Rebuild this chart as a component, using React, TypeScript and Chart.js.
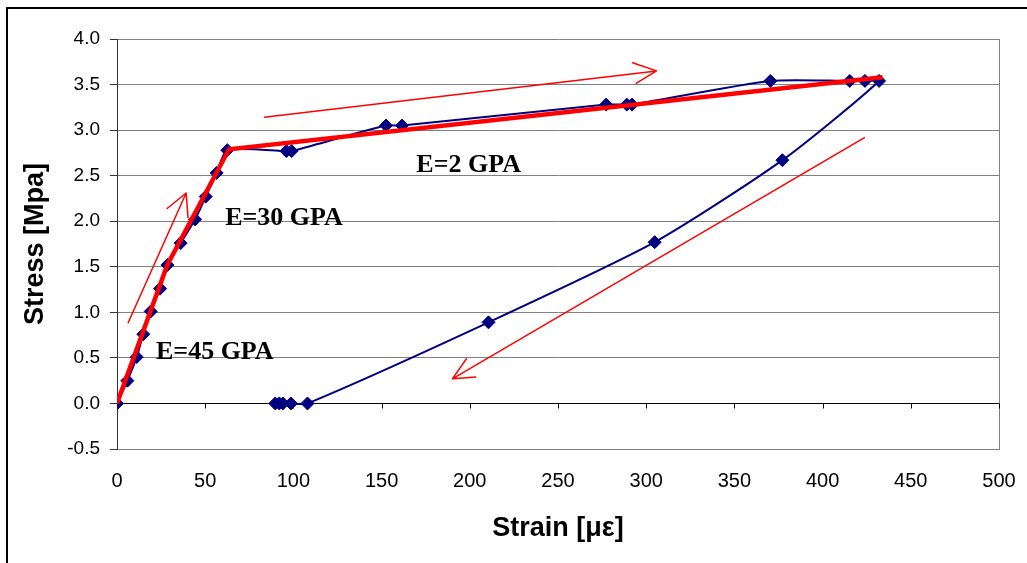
import React, { useEffect, useRef } from "react";
import { Chart, registerables } from "chart.js";

Chart.register(...registerables);

// Measured stress-strain curve (loading then unloading)
const curveStrain = [
  0, 5.9, 11.2, 14.9, 19.1, 24.4, 28.6, 36.1, 44.3, 50.3, 56.5, 62.5,
  96, 99, 152.5, 161.6, 277.3, 289, 292, 370.4, 415.4, 424, 432,
  377.2, 304.8, 210.6, 108, 98.6, 94, 92, 89.7,
];
const curveStress = [
  0, 0.25, 0.51, 0.76, 1.01, 1.26, 1.52, 1.76, 2.02, 2.27, 2.53, 2.78,
  2.77, 2.77, 3.05, 3.05, 3.28, 3.28, 3.28, 3.54, 3.54, 3.54, 3.54,
  2.67, 1.77, 0.89, 0, 0, 0, 0, 0,
];

// Piecewise-linear modulus fit (thick red)
const fitStrain = [0, 28.5, 63.5, 434];
const fitStress = [0, 1.52, 2.79, 3.58];

// Thin red arrows: shaft start, tip, head side 1, tip, head side 2
const arrowUpStrain = [6.2, 39.2, 28.4, 39.2, 40.3];
const arrowUpStress = [0.88, 2.31, 2.14, 2.31, 2.03];
const arrowTopStrain = [83.4, 305.9, 292.3, 305.9, 294];
const arrowTopStress = [3.14, 3.65, 3.74, 3.65, 3.51];
const arrowDownStrain = [424, 190.1, 198.1, 190.1, 203.7];
const arrowDownStress = [2.92, 0.27, 0.49, 0.27, 0.29];

// Annotations
const labelTexts = ["E=45 GPA", "E=30 GPA", "E=2 GPA"];
const labelStrain = [22.1, 61.3, 169.7];
const labelStress = [0.487, 1.96, 2.54];

// Axis ticks
const xTicks = [0, 50, 100, 150, 200, 250, 300, 350, 400, 450, 500];
const yTicks = [-0.5, 0, 0.5, 1.0, 1.5, 2.0, 2.5, 3.0, 3.5, 4.0];

const toPts = (xs: number[], ys: number[]) => xs.map((x, i) => ({ x, y: ys[i] }));

const SANS = '"Liberation Sans", Arial, sans-serif';

const framePlugin = {
  id: "frame",
  beforeDraw(chart: any) {
    const ctx = chart.ctx;
    ctx.save();
    ctx.strokeStyle = "#000";
    ctx.lineWidth = 2;
    ctx.strokeRect(7, 8, 1200, 700);
    ctx.restore();
  },
};

const axisTickPlugin = {
  id: "zeroAxisTicks",
  beforeDatasetsDraw(chart: any) {
    const { ctx, scales } = chart;
    const x = scales.x;
    const y = scales.y;
    const y0 = Math.round(y.getPixelForValue(0)) + 0.5;
    ctx.save();
    ctx.strokeStyle = "#000";
    ctx.lineWidth = 1;
    ctx.beginPath();
    xTicks.forEach((v) => {
      const px = Math.round(x.getPixelForValue(v)) + 0.5;
      ctx.moveTo(px, y0);
      ctx.lineTo(px, y0 + 5);
    });
    ctx.stroke();
    ctx.restore();
  },
};

const labelPlugin = {
  id: "modulusLabels",
  afterDatasetsDraw(chart: any) {
    const { ctx, scales } = chart;
    ctx.save();
    ctx.fillStyle = "#000";
    ctx.font = 'bold 26px "Liberation Serif", "Times New Roman", serif';
    ctx.textBaseline = "alphabetic";
    ctx.textAlign = "left";
    labelTexts.forEach((t, i) => {
      ctx.fillText(
        t,
        scales.x.getPixelForValue(labelStrain[i]),
        scales.y.getPixelForValue(labelStress[i])
      );
    });
    ctx.restore();
  },
};

export default function App() {
  const ref = useRef<HTMLCanvasElement | null>(null);

  useEffect(() => {
    if (!ref.current) return;
    const arrowStyle = {
      showLine: true,
      borderColor: "#ff0000",
      borderWidth: 1.5,
      pointRadius: 0,
      tension: 0,
      borderJoinStyle: "round" as const,
      order: 2,
    };
    const chart = new Chart(ref.current, {
      type: "scatter",
      data: {
        datasets: [
          {
            data: toPts(fitStrain, fitStress),
            showLine: true,
            borderColor: "#ff0000",
            borderWidth: 4.5,
            pointRadius: 0,
            tension: 0,
            order: 1,
          },
          { data: toPts(arrowUpStrain, arrowUpStress), ...arrowStyle },
          { data: toPts(arrowTopStrain, arrowTopStress), ...arrowStyle },
          { data: toPts(arrowDownStrain, arrowDownStress), ...arrowStyle },
          {
            data: toPts(curveStrain, curveStress),
            showLine: true,
            borderColor: "#000080",
            backgroundColor: "#000080",
            borderWidth: 2,
            pointStyle: "rectRot",
            pointRadius: 6.5,
            pointBorderWidth: 1,
            pointBorderColor: "#000080",
            pointBackgroundColor: "#000080",
            tension: 0.22,
            order: 5,
          },
        ],
      },
      options: {
        animation: false,
        responsive: false,
        devicePixelRatio: 1,
        layout: { padding: { left: 0, right: 28, top: 39, bottom: 0 } },
        plugins: {
          legend: { display: false },
          tooltip: { enabled: false },
        },
        scales: {
          x: {
            type: "linear",
            min: 0,
            max: 500,
            afterBuildTicks: (s: any) => {
              s.ticks = xTicks.map((v) => ({ value: v }));
            },
            afterFit: (s: any) => {
              s.height = 114;
              s.paddingLeft = 0;
              s.paddingRight = 0;
            },
            grid: {
              drawTicks: false,
              lineWidth: 1,
              color: (c: any) => (c.tick && c.tick.value === 500 ? "#808080" : "rgba(0,0,0,0)"),
            },
            border: { display: true, color: "#808080", width: 1 },
            ticks: {
              autoSkip: false,
              maxRotation: 0,
              padding: 20,
              color: "#000",
              font: { family: SANS, size: 20 },
              callback: (v: any) => String(v),
            },
            title: {
              display: true,
              text: "Strain [\u03bc\u03b5]",
              color: "#000",
              font: { family: SANS, size: 27, weight: "bold" },
              padding: { top: 0, bottom: 18 },
            },
          },
          y: {
            type: "linear",
            min: -0.5,
            max: 4.0,
            afterBuildTicks: (s: any) => {
              s.ticks = yTicks.map((v) => ({ value: v }));
            },
            afterFit: (s: any) => {
              s.width = 117;
              s.paddingTop = 0;
              s.paddingBottom = 0;
            },
            grid: {
              drawTicks: true,
              tickLength: 7,
              tickColor: "#333",
              lineWidth: 1,
              color: (c: any) => (c.tick && c.tick.value === 0 ? "#000" : "#808080"),
            },
            border: { display: true, color: "#333", width: 1 },
            ticks: {
              padding: 10,
              color: "#000",
              font: { family: SANS, size: 19 },
              callback: (v: any) => Number(v).toFixed(1),
            },
            title: {
              display: true,
              text: "Stress [Mpa]",
              color: "#000",
              font: { family: SANS, size: 27, weight: "bold" },
              padding: { top: 19, bottom: 0 },
            },
          },
        },
      },
      plugins: [framePlugin, axisTickPlugin, labelPlugin],
    } as any);
    return () => chart.destroy();
  }, []);

  return (
    <div style={{ position: "fixed", left: 0, top: 0, width: 1027, height: 563, background: "#fff" }}>
      <canvas ref={ref} width={1027} height={563} style={{ display: "block" }} />
    </div>
  );
}
